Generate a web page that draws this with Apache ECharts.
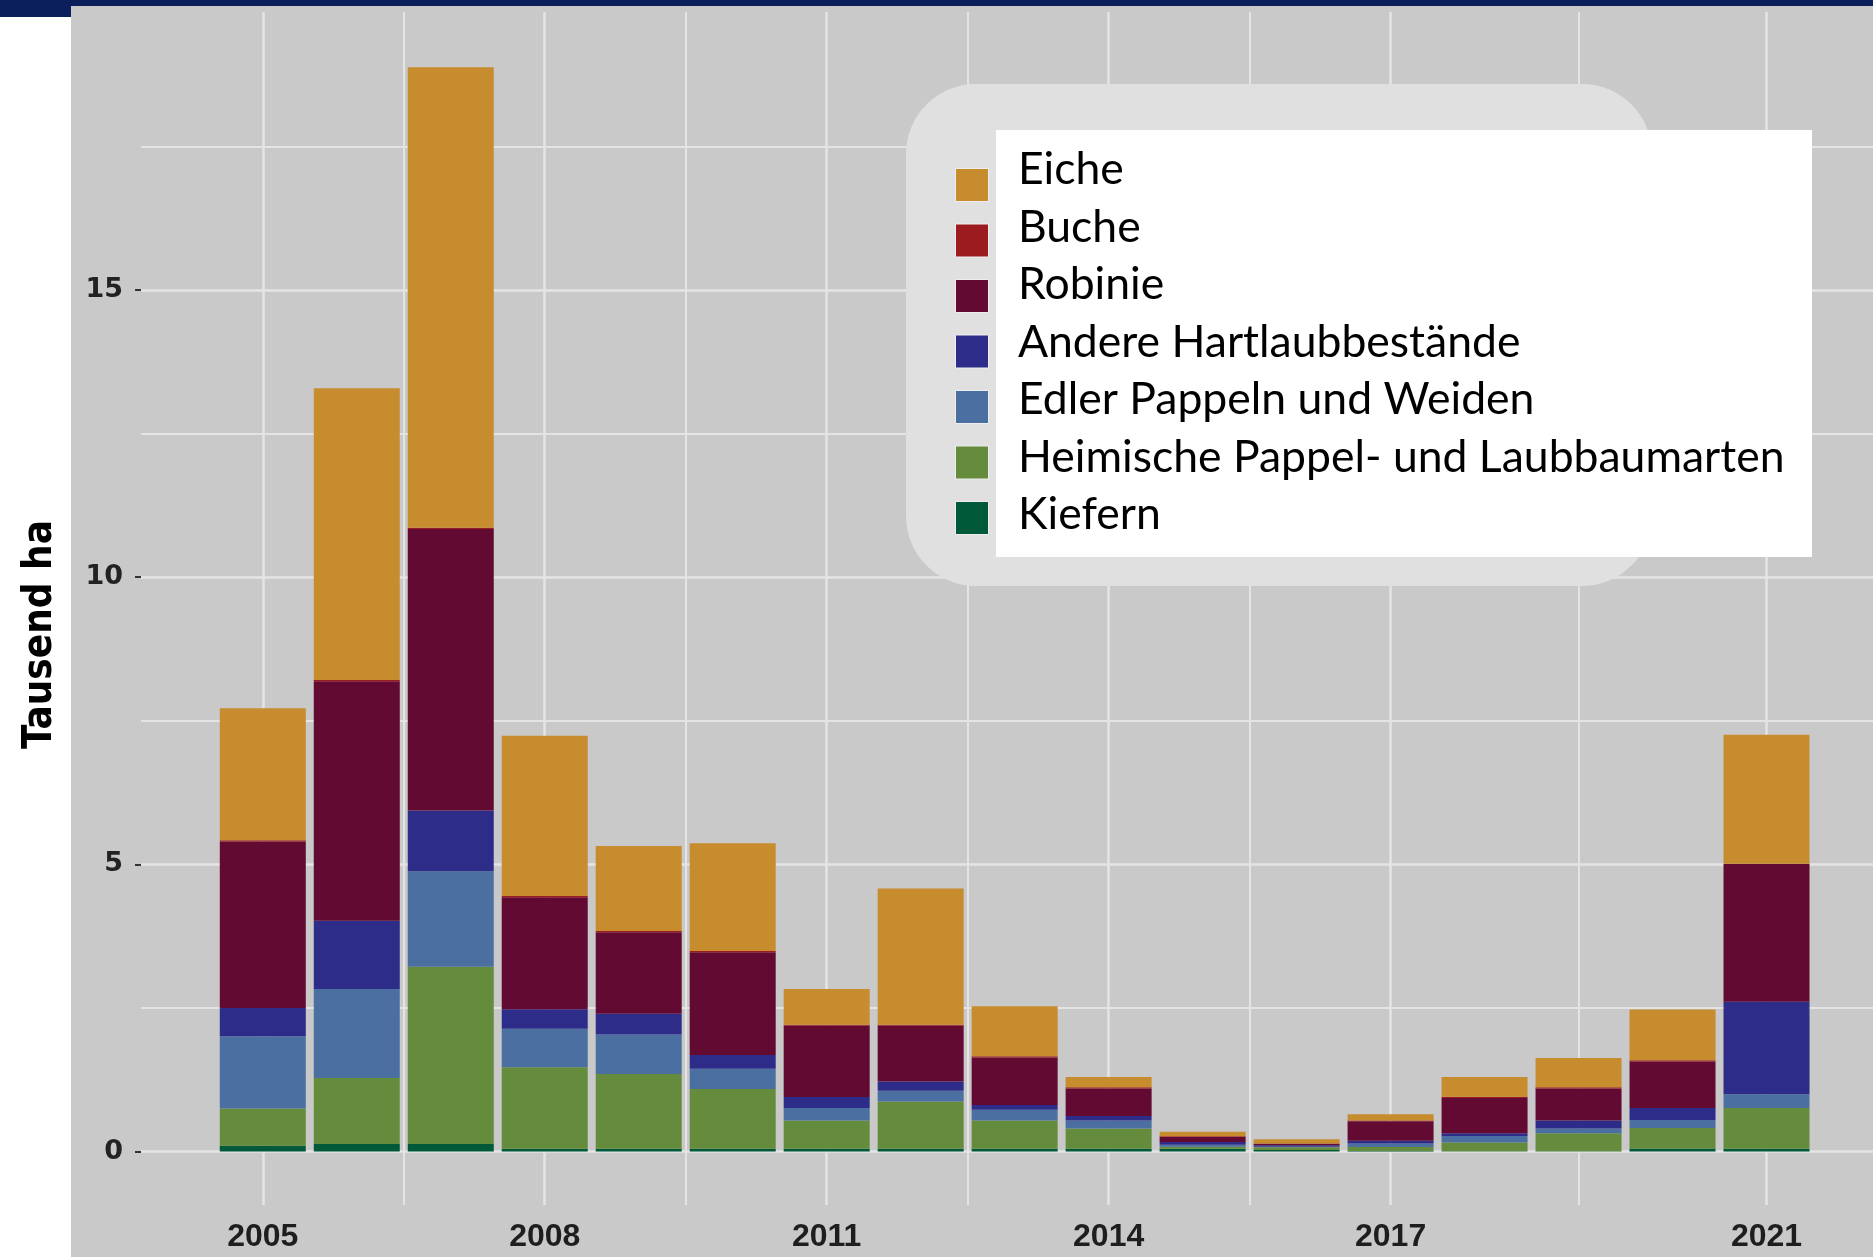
<!DOCTYPE html>
<html>
<head>
    <meta charset="utf-8">
    <title>Kahlflächen nach Baumart</title>
    <script src="https://cdn.jsdelivr.net/npm/echarts@6.0.0/dist/echarts.min.js"></script>
    <style>
        html, body { margin: 0; padding: 0; background: #fff; }
    </style>
</head>
<body>
    <div id="main" style="width: 1873px;height:1257px;"></div>
    <script type="text/javascript">

// values in Tausend ha
var years = ['2005', '2006', '2007', '2008', '2009', '2010', '2011', '2012', '2013', '2014', '2015', '2016', '2017', '2018', '2019', '2020', '2021'];
var kiefern   = [0.10, 0.13, 0.13, 0.05, 0.05, 0.05, 0.05, 0.05, 0.05, 0.05, 0.05, 0.026, 0.01, 0.005, 0.005, 0.055, 0.05];
var heimische = [0.65, 1.15, 3.09, 1.42, 1.30, 1.04, 0.49, 0.82, 0.49, 0.35, 0.035, 0.05, 0.07, 0.155, 0.315, 0.355, 0.71];
var edler     = [1.26, 1.55, 1.66, 0.67, 0.69, 0.35, 0.22, 0.19, 0.19, 0.14, 0.036, 0.01, 0.06, 0.11, 0.08, 0.14, 0.24];
var andere    = [0.49, 1.19, 1.06, 0.34, 0.36, 0.24, 0.19, 0.16, 0.08, 0.08, 0.045, 0.023, 0.05, 0.05, 0.14, 0.21, 1.61];
var robinie   = [2.90, 4.17, 4.90, 1.95, 1.42, 1.79, 1.24, 0.97, 0.83, 0.48, 0.09, 0.025, 0.34, 0.615, 0.56, 0.81, 2.40];
var buche     = [0.02, 0.02, 0.02, 0.02, 0.02, 0.02, 0.02, 0.02, 0.02, 0.02, 0.01, 0.005, 0.01, 0.02, 0.02, 0.02, 0];
var eiche     = [2.30, 5.08, 8.02, 2.79, 1.48, 1.88, 0.62, 2.37, 0.87, 0.18, 0.08, 0.075, 0.11, 0.345, 0.51, 0.885, 2.245];

var labelYears = ['2005', '2008', '2011', '2014', '2017', '2021'];
var majorX = [2005, 2008, 2011, 2014, 2017, 2021];
var minorX = [2006.5, 2009.5, 2012.5, 2015.5, 2019];
var yTicks = [0, 5, 10, 15];
var yMinor = [2.5, 7.5, 12.5, 17.5];

var legendOrder = ['Eiche', 'Buche', 'Robinie', 'Andere Hartlaubbestände',
    'Edler Pappeln und Weiden', 'Heimische Pappel- und Laubbaumarten', 'Kiefern'];

var myChart = echarts.init(document.getElementById('main'));

var gridColor = '#e4e4e4';
var yMin = -0.93, yMax = 19.84;

function gridLines() {
    var out = [];
    majorX.forEach(function (y) { out.push({ xAxis: y, lineStyle: { width: 2.5 } }); });
    minorX.forEach(function (y) { out.push({ xAxis: y, lineStyle: { width: 2 } }); });
    yTicks.forEach(function (v) { out.push({ yAxis: v, lineStyle: { width: 2.5 } }); });
    yMinor.forEach(function (v) { out.push({ yAxis: v, lineStyle: { width: 2 } }); });
    return out;
}

function barSeries(name, values, color) {
    return {
        name: name,
        type: 'bar',
        stack: 'total',
        xAxisIndex: 1,
        yAxisIndex: 1,
        barWidth: 86,
        data: values,
        itemStyle: { color: color }
    };
}

function isLabelYear(index, value) {
    return labelYears.indexOf(String(value)) >= 0;
}

var series = [
    {
        // panel grid lines, under the bars
        name: 'grid',
        type: 'line',
        xAxisIndex: 0,
        yAxisIndex: 0,
        data: [],
        markLine: {
            z: 1,
            silent: true,
            animation: false,
            symbol: ['none', 'none'],
            label: { show: false },
            lineStyle: { color: gridColor, type: 'solid' },
            data: gridLines()
        }
    },
    barSeries('Kiefern', kiefern, '#005a3a'),
    barSeries('Heimische Pappel- und Laubbaumarten', heimische, '#658b3c'),
    barSeries('Edler Pappeln und Weiden', edler, '#4a6fa0'),
    barSeries('Andere Hartlaubbestände', andere, '#2d2d89'),
    barSeries('Robinie', robinie, '#630a33'),
    barSeries('Buche', buche, '#9b1b1f'),
    barSeries('Eiche', eiche, '#c68c2d')
];

var option = {
    backgroundColor: '#c9c9c9',
    animation: false,
    graphic: [
        { type: 'rect', z: -1, shape: { x: 0, y: 17, width: 71, height: 1240 }, style: { fill: '#ffffff' } },
        { type: 'rect', z: 5, shape: { x: 0, y: 0, width: 1873, height: 6 }, style: { fill: '#0b1f5c' } },
        { type: 'rect', z: 5, shape: { x: 0, y: 0, width: 71, height: 17 }, style: { fill: '#0b1f5c' } },
        { type: 'rect', z: 5, shape: { x: 906, y: 84, width: 746, height: 502, r: 70 }, style: { fill: '#e0e0e0' } },
        { type: 'rect', z: 6, shape: { x: 996, y: 130, width: 816, height: 427 }, style: { fill: '#ffffff' } }
    ],
    legend: [
        {
            // colour keys
            data: legendOrder,
            orient: 'vertical',
            left: 955,
            top: 168,
            padding: 0,
            z: 10,
            itemWidth: 33,
            itemHeight: 33,
            itemGap: 21.5,
            icon: 'rect',
            itemStyle: { borderColor: '#eeeeee', borderWidth: 1 },
            formatter: function () { return ''; }
        },
        {
            // labels
            data: legendOrder,
            orient: 'vertical',
            left: 1013,
            top: 141,
            padding: 0,
            z: 10,
            itemWidth: 0,
            itemHeight: 0,
            itemGap: 0,
            textStyle: {
                fontFamily: 'Lato',
                fontSize: 44.5,
                lineHeight: 57.5,
                color: '#000'
            }
        }
    ],
    grid: [
        { left: 141, right: 0, top: 12, bottom: 52, containLabel: false, outerBoundsMode: 'none' },
        { left: 215.8, right: 59.5, top: 12, bottom: 52, containLabel: false, outerBoundsMode: 'none' }
    ],
    xAxis: [
        {
            type: 'value',
            gridIndex: 0,
            min: 2003.704,
            max: 2022.133,
            show: false
        },
        {
            type: 'category',
            gridIndex: 1,
            data: years,
            axisLine: { show: false },
            splitLine: { show: false },
            axisTick: {
                alignWithLabel: true,
                interval: isLabelYear,
                length: 7,
                lineStyle: { color: '#333', width: 2 }
            },
            axisLabel: {
                interval: isLabelYear,
                margin: 16,
                fontFamily: 'Liberation Sans',
                fontWeight: 'bold',
                fontSize: 32,
                color: '#1e1e1e'
            }
        }
    ],
    yAxis: [
        {
            type: 'value',
            gridIndex: 0,
            z: 3,
            min: yMin,
            max: yMax,
            name: 'Tausend ha',
            nameLocation: 'middle',
            nameGap: 80,
            nameRotate: 90,
            nameTextStyle: {
                fontFamily: '"Liberation Sans Narrow", "DejaVu Sans Condensed", "Roboto Condensed", "Liberation Sans", sans-serif',
                fontWeight: 'bold',
                fontSize: 40,
                color: '#000',
                padding: [0, 52, 0, 0]
            },
            axisLine: { show: false },
            splitLine: { show: false },
            axisTick: {
                customValues: yTicks,
                length: 6,
                lineStyle: { color: '#333', width: 2 }
            },
            axisLabel: {
                customValues: yTicks,
                margin: 18,
                fontFamily: 'DejaVu Sans',
                fontWeight: 'bold',
                fontSize: 27,
                color: '#222'
            }
        },
        {
            type: 'value',
            gridIndex: 1,
            min: yMin,
            max: yMax,
            show: false
        }
    ],
    series: series
};

myChart.setOption(option);
    </script>
</body>
</html>
